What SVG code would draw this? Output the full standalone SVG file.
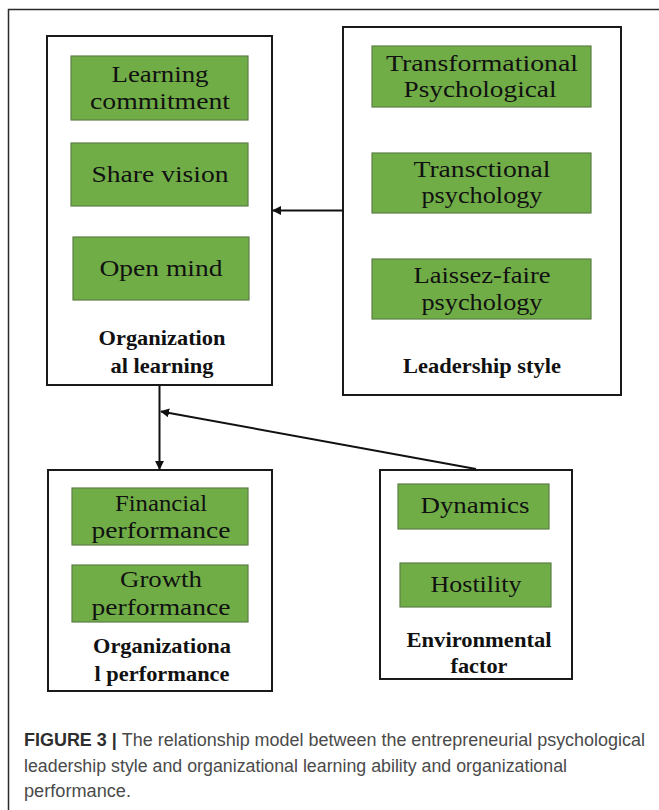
<svg xmlns="http://www.w3.org/2000/svg" width="659" height="810" viewBox="0 0 659 810">
  <style>
    .frame { fill: none; stroke: #2b2b2b; stroke-width: 1.5; }
    .box { fill: #ffffff; stroke: #1a1a1a; stroke-width: 2; }
    .item { fill: #70ad47; stroke: #5b7f45; stroke-width: 1.2; }
    .itxt { font-family: "Liberation Serif", "Times New Roman", serif; font-size: 24px; fill: #111; text-anchor: middle; }
    .ltxt { font-family: "Liberation Serif", "Times New Roman", serif; font-size: 22px; font-weight: bold; fill: #111; text-anchor: middle; }
    .cap { font-family: "Liberation Sans", Arial, sans-serif; font-size: 17.5px; fill: #4a4a4a; }
    .capb { font-weight: bold; fill: #2e2e2e; }
    .conn { fill: none; stroke: #111; stroke-width: 2; }
  </style>
  <defs>
    <marker id="arrow" viewBox="0 0 10 10" refX="9" refY="5" markerWidth="4.5" markerHeight="4.5" orient="auto" markerUnits="strokeWidth">
      <path d="M0,0 L10,5 L0,10 z" fill="#111"/>
    </marker>
  </defs>

  <rect width="659" height="810" fill="#ffffff"/>
  <!-- figure frame (left and top rules) -->
  <path class="frame" d="M8.5,810 V9.5 H659"/>

  <!-- Organizational learning -->
  <g id="org-learning">
    <rect class="box" x="47" y="36" width="225" height="349"/>
    <rect class="item" x="71" y="56" width="177" height="64"/>
    <text class="itxt" x="160" y="82" textLength="97" lengthAdjust="spacingAndGlyphs">Learning</text>
    <text class="itxt" x="160" y="109" textLength="140" lengthAdjust="spacingAndGlyphs">commitment</text>
    <rect class="item" x="71" y="143" width="177" height="63"/>
    <text class="itxt" x="160" y="182" textLength="137" lengthAdjust="spacingAndGlyphs">Share vision</text>
    <rect class="item" x="73" y="237" width="176" height="63"/>
    <text class="itxt" x="161" y="276" textLength="123" lengthAdjust="spacingAndGlyphs">Open mind</text>
    <text class="ltxt" x="162" y="345" textLength="127" lengthAdjust="spacingAndGlyphs">Organization</text>
    <text class="ltxt" x="162" y="373" textLength="103" lengthAdjust="spacingAndGlyphs">al learning</text>
  </g>

  <!-- Leadership style -->
  <g id="leadership-style">
    <rect class="box" x="343" y="27" width="278" height="368"/>
    <rect class="item" x="372" y="46" width="219" height="61"/>
    <text class="itxt" x="482" y="71" textLength="192" lengthAdjust="spacingAndGlyphs">Transformational</text>
    <text class="itxt" x="480" y="97" textLength="153" lengthAdjust="spacingAndGlyphs">Psychological</text>
    <rect class="item" x="372" y="153" width="219" height="60"/>
    <text class="itxt" x="482" y="177" textLength="137" lengthAdjust="spacingAndGlyphs">Transctional</text>
    <text class="itxt" x="482" y="203" textLength="121" lengthAdjust="spacingAndGlyphs">psychology</text>
    <rect class="item" x="372" y="259" width="219" height="60"/>
    <text class="itxt" x="482" y="283" textLength="137" lengthAdjust="spacingAndGlyphs">Laissez-faire</text>
    <text class="itxt" x="482" y="310" textLength="121" lengthAdjust="spacingAndGlyphs">psychology</text>
    <text class="ltxt" x="482" y="373" textLength="158" lengthAdjust="spacingAndGlyphs">Leadership style</text>
  </g>

  <!-- Organizational performance -->
  <g id="org-performance">
    <rect class="box" x="48" y="470" width="224" height="221"/>
    <rect class="item" x="72" y="488" width="176" height="57"/>
    <text class="itxt" x="161" y="511" textLength="92" lengthAdjust="spacingAndGlyphs">Financial</text>
    <text class="itxt" x="161" y="538" textLength="139" lengthAdjust="spacingAndGlyphs">performance</text>
    <rect class="item" x="72" y="565" width="176" height="57"/>
    <text class="itxt" x="161" y="587" textLength="82" lengthAdjust="spacingAndGlyphs">Growth</text>
    <text class="itxt" x="161" y="615" textLength="139" lengthAdjust="spacingAndGlyphs">performance</text>
    <text class="ltxt" x="162" y="653" textLength="138" lengthAdjust="spacingAndGlyphs">Organizationa</text>
    <text class="ltxt" x="162" y="681" textLength="135" lengthAdjust="spacingAndGlyphs">l performance</text>
  </g>

  <!-- Environmental factor -->
  <g id="environmental-factor">
    <rect class="box" x="380" y="470" width="192" height="209"/>
    <rect class="item" x="398" y="484" width="151" height="45"/>
    <text class="itxt" x="475" y="513" textLength="109" lengthAdjust="spacingAndGlyphs">Dynamics</text>
    <rect class="item" x="400" y="563" width="151" height="44"/>
    <text class="itxt" x="476" y="592" textLength="91" lengthAdjust="spacingAndGlyphs">Hostility</text>
    <text class="ltxt" x="479" y="647" textLength="145" lengthAdjust="spacingAndGlyphs">Environmental</text>
    <text class="ltxt" x="479" y="673" textLength="57" lengthAdjust="spacingAndGlyphs">factor</text>
  </g>

  <!-- connectors -->
  <g id="connectors">
    <line class="conn" x1="343" y1="210.5" x2="273" y2="210.5" marker-end="url(#arrow)"/>
    <line class="conn" x1="159.5" y1="386" x2="159.5" y2="469" marker-end="url(#arrow)"/>
    <line class="conn" x1="476" y1="469" x2="161" y2="411.5" marker-end="url(#arrow)"/>
  </g>

  <!-- caption -->
  <g id="caption">
    <text class="cap" x="24" y="746" textLength="621" lengthAdjust="spacingAndGlyphs"><tspan class="capb">FIGURE 3 | </tspan>The relationship model between the entrepreneurial psychological</text>
    <text class="cap" x="24" y="772" textLength="543" lengthAdjust="spacingAndGlyphs">leadership style and organizational learning ability and organizational</text>
    <text class="cap" x="24" y="797" textLength="107" lengthAdjust="spacingAndGlyphs">performance.</text>
  </g>
</svg>
